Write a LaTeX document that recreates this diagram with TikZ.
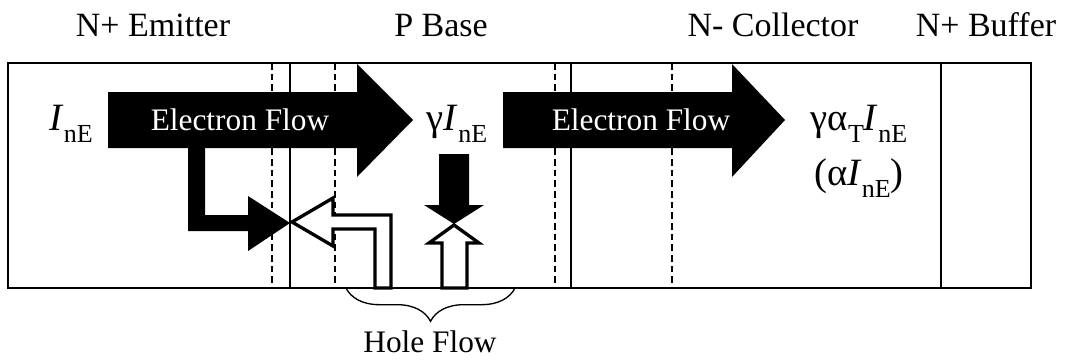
\documentclass[tikz,border=0pt]{standalone}
\usepackage{fontspec}
\setmainfont{Liberation Serif}
\usetikzlibrary{decorations.pathreplacing}

% current labels: italic I with a lowered subscript
\newcommand{\lowsub}[1]{\raisebox{-9.5pt}{\fontsize{19.5}{20}\selectfont #1}}
\newcommand{\Ine}{\textit{I}\lowsub{nE}}

\tikzset{
  region/.style={font=\fontsize{25.5}{26}\selectfont, anchor=base},
  flowtext/.style={font=\fontsize{23.5}{24}\selectfont, anchor=base},
  current/.style={font=\fontsize{29}{30}\selectfont, anchor=base},
  electron/.style={fill=black},
  hole/.style={draw=black, fill=white, line width=2.5pt, line join=miter},
  border/.style={line width=1.5pt},
  divider/.style={line width=1.2pt},
  junction/.style={dash pattern=on 5pt off 3pt, line width=1.6pt},
}

\begin{document}
\begin{tikzpicture}[x=0.75pt,y=-0.75pt]
\useasboundingbox (0,0) rectangle (1066,360);

% Region names
\node[region] (emitter)   at (153,37) {N+ Emitter};
\node[region] (base)      at (441,37) {P Base};
\node[region] (collector) at (773,37) {N- Collector};
\node[region] (buffer)    at (986,37) {N+ Buffer};

% Layers and junction edges
\foreach \x in {290,571,941}
  \draw[divider] (\x,63) -- (\x,288);
\foreach \x in {272,335,555,672}
  \draw[junction] (\x,63) -- (\x,288);

% Electron flow (black arrows)
\fill[electron] (108,92) -- (357,92) -- (357,64) -- (413,120)
      -- (357,177) -- (357,148) -- (108,148) -- cycle;
\fill[electron] (503,92) -- (732,92) -- (732,64) -- (785,120)
      -- (732,177) -- (732,148) -- (503,148) -- cycle;
\fill[electron] (188,148) -- (205,148) -- (205,215) -- (248,215)
      -- (248,196) -- (290,223) -- (248,251) -- (248,231)
      -- (188,231) -- cycle;
\fill[electron] (439,154) -- (469,154) -- (469,205) -- (484,205)
      -- (454,224) -- (424,205) -- (439,205) -- cycle;

% Hole flow (hollow arrows)
\draw[hole] (292,222) -- (333,198) -- (333,215) -- (391,215)
      -- (391,288) -- (375,288) -- (375,229) -- (333,229)
      -- (333,246) -- cycle;
\draw[hole] (454,225) -- (479,243) -- (467,243) -- (467,288)
      -- (442,288) -- (442,243) -- (429,243) -- cycle;

% Device outline
\draw[border] (8,63) rectangle (1031,288);

% Flow texts
\node[flowtext,text=white] (flowE) at (240,130) {Electron Flow};
\node[flowtext,text=white] (flowB) at (641,130) {Electron Flow};

% Currents
\node[current] (inE)    at (71,130)  {\Ine};
\node[current] (gammaI) at (457,130) {γ\Ine};
\node[current] (collI)  at (859,130) {γα\lowsub{T}\Ine};
\node[current] (alphaI) at (859,185) {(α\Ine)};

% Brace under the base
\coordinate (holeL) at (346,288);
\coordinate (holeR) at (515,288);
\draw[decorate,decoration={brace,mirror,amplitude=25pt},line width=1pt]
      (holeL) -- (holeR);
\node[flowtext] (holes) at (430,352) {Hole Flow};

\end{tikzpicture}
\end{document}
